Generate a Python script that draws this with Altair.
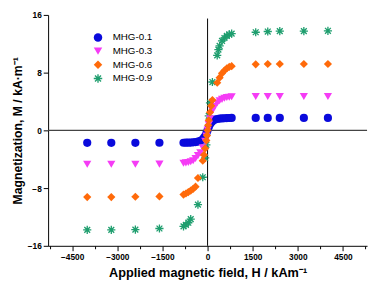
import altair as alt
import pandas as pd

series_names = ["MHG-0.1", "MHG-0.3", "MHG-0.6", "MHG-0.9"]
series_colors = ["#0A0ADC", "#F53CF5", "#FF6A0A", "#1E9E6E"]

h_01 = [-4000, -3200, -2400, -1600, -800, -720, -640, -560, -480, -400, -320, -240, -160, -120, -80, -40, 0,
        40, 80, 120, 160, 240, 320, 400, 480, 560, 640, 720, 800, 1600, 2000, 2400, 3200, 4000]
m_01 = [-1.73, -1.73, -1.73, -1.72, -1.72, -1.71, -1.70, -1.69, -1.66, -1.62, -1.55, -1.45, -1.25, -1.05, -0.8, -0.4, 0.0,
        0.45, 0.85, 1.1, 1.28, 1.48, 1.58, 1.63, 1.66, 1.68, 1.70, 1.71, 1.72, 1.73, 1.73, 1.73, 1.73, 1.73]

h_03 = [-4000, -3200, -2400, -1600, -800, -720, -640, -560, -480, -400, -320, -240, -160, -80, -40, 0,
        40, 80, 160, 240, 320, 400, 480, 560, 640, 720, 800, 1600, 2000, 2400, 3200, 4000]
m_03 = [-4.7, -4.7, -4.7, -4.68, -4.55, -4.5, -4.45, -4.35, -4.2, -3.9, -3.5, -3.1, -2.4, -1.5, -0.8, 0.0,
        0.8, 1.6, 2.7, 3.3, 3.8, 4.1, 4.3, 4.45, 4.55, 4.6, 4.65, 4.7, 4.7, 4.7, 4.7, 4.7]

h_06 = [-4000, -3200, -2400, -1600, -800, -720, -640, -560, -480, -400, -320, -160, -120, -80, -40, -20, 0,
        20, 40, 80, 120, 160, 320, 400, 480, 560, 640, 720, 800, 1600, 2000, 2400, 3200, 4000]
m_06 = [-9.25, -9.25, -9.2, -9.15, -8.9, -8.75, -8.55, -8.35, -8.1, -7.8, -6.6, -4.2, -3.4, -2.5, -1.4, -0.7, 0.0,
        0.7, 1.4, 2.5, 3.4, 4.2, 6.6, 7.3, 7.9, 8.3, 8.6, 8.8, 8.9, 9.15, 9.2, 9.2, 9.2, 9.2]

h_09 = [-4000, -3200, -2400, -1600, -800, -720, -640, -560, -320, -160, -80, -40, 0,
        40, 80, 160, 320, 360, 400, 480, 560, 640, 720, 800, 1600, 2000, 2400, 3200, 4000]
m_09 = [-13.8, -13.8, -13.75, -13.6, -13.3, -13.1, -12.8, -12.3, -10.3, -6.5, -3.8, -2.0, 0.0,
        2.0, 3.8, 6.7, 10.4, 11.2, 11.7, 12.4, 12.8, 13.1, 13.3, 13.4, 13.6, 13.7, 13.75, 13.75, 13.8]

x_ticks = list(range(-5250, 5251, 750))
y_ticks = list(range(-16, 17, 2))

asterisk = ("M-1,-0.16L1,-0.16L1,0.16L-1,0.16Z"
            "M-0.16,-1L0.16,-1L0.16,1L-0.16,1Z"
            "M-0.594,-0.820L0.820,0.594L0.594,0.820L-0.820,-0.594Z"
            "M-0.820,0.594L0.594,-0.820L0.820,-0.594L-0.594,0.820Z")
series_shapes = ["circle", "triangle-down", "diamond", asterisk]

draw_order = [3, 0, 1, 2]
all_h = [h_01, h_03, h_06, h_09]
all_m = [m_01, m_03, m_06, m_09]
rows = []
for i in draw_order:
    for h, m in zip(all_h[i], all_m[i]):
        rows.append({"H": h, "M": m, "series": series_names[i]})
df = pd.DataFrame(rows)
df["idx"] = range(len(df))

FONT = "Liberation Sans"
xscale = alt.Scale(domain=[-5300, 5300], nice=False, zero=False)
yscale = alt.Scale(domain=[-16, 16], nice=False, zero=False)

xaxis = alt.Axis(
    values=x_ticks, format="d", grid=False,
    labelExpr="datum.value % 1500 === 0 ? datum.label : ''",
    tickSize={"condition": {"test": "datum.value % 1500 === 0", "value": 5}, "value": 3},
    title="Applied magnetic field, H / kAm⁻¹",
)
yaxis = alt.Axis(
    values=y_ticks, format="d", grid=False,
    labelExpr="datum.value % 4 === 0 ? datum.label : ''",
    tickSize={"condition": {"test": "datum.value % 4 === 0", "value": 5}, "value": 3},
    title="Magnetization, M / kA·m⁻¹",
)

hline = alt.Chart(pd.DataFrame({"M": [0]})).mark_rule(color="#444444", strokeWidth=1.5).encode(
    y=alt.Y("M:Q", scale=yscale, axis=yaxis)
)
vline = alt.Chart(pd.DataFrame({"H": [0], "M": [-16], "M2": [15.5]})).mark_rule(color="#000000", strokeWidth=1).encode(
    x=alt.X("H:Q", scale=xscale, axis=xaxis),
    y=alt.Y("M:Q", scale=yscale),
    y2="M2:Q",
)

points = alt.Chart(df).mark_point(filled=True, opacity=1, size=70).encode(
    x=alt.X("H:Q", scale=xscale, axis=xaxis),
    y=alt.Y("M:Q", scale=yscale, axis=yaxis),
    color=alt.Color("series:N", scale=alt.Scale(domain=series_names, range=series_colors),
                    legend=alt.Legend(title=None, orient="none", legendX=46, legendY=18,
                                      symbolSize=75, labelFontSize=10, labelFont=FONT,
                                      rowPadding=4, labelOffset=10, padding=0,
                                      symbolStrokeWidth=0)),
    shape=alt.Shape("series:N", scale=alt.Scale(domain=series_names, range=series_shapes)),
    order=alt.Order("idx:Q"),
)

chart = alt.layer(hline, vline, points).properties(
    width=326, height=236,
    padding={"left": 41, "right": 2, "top": 4, "bottom": 38},
    autosize=alt.AutoSizeParams(type="none"),
).configure_view(strokeWidth=0).configure_axis(
    domainColor="#000000", domainWidth=1, tickColor="#000000", tickWidth=1,
    labelFont=FONT, labelFontSize=8.5, labelFontWeight="bold", labelColor="#000000", labelPadding=2,
    titleFont=FONT, titleFontSize=13, titleFontWeight="bold", titleColor="#000000",
).configure_axisX(titlePadding=6).configure_axisY(titlePadding=3, titleFontSize=12.5)

chart.save("out.html", embed_options={"renderer": "svg", "actions": False})
